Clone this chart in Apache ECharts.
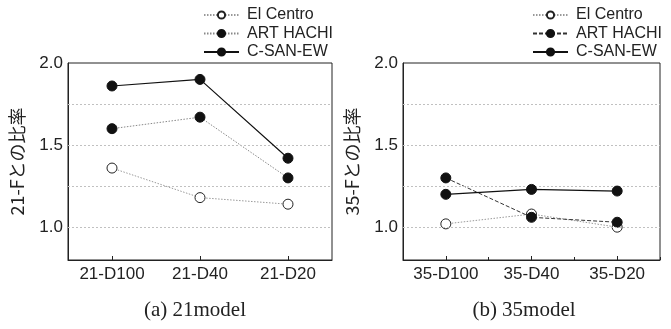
<!DOCTYPE html>
<html>
<head>
<meta charset="utf-8">
<script src="https://cdn.jsdelivr.net/npm/echarts@6/dist/echarts.min.js"></script>
<style>
html,body{margin:0;padding:0;background:#fff;}
#a{position:absolute;left:0;top:0;width:335px;height:329px;}
#b{position:absolute;left:335px;top:0;width:336px;height:329px;}
</style>
</head>
<body>
<div id="a"></div>
<div id="b"></div>
<script>
// ---- data ----
const catsA = ['21-D100', '21-D40', '21-D20'];
const catsB = ['35-D100', '35-D40', '35-D20'];
const seriesNames = ['El Centro', 'ART HACHI', 'C-SAN-EW'];
const elCentroA = [1.36, 1.18, 1.14];
const artHachiA = [1.60, 1.67, 1.30];
const cSanEwA   = [1.86, 1.90, 1.42];
const elCentroB = [1.02, 1.08, 1.00];
const artHachiB = [1.30, 1.06, 1.03];
const cSanEwB   = [1.20, 1.23, 1.22];
const gridValues = [1.0, 1.25, 1.5, 1.75];
const yLabelValues = [1.0, 1.5, 2.0];
const yNameA = '21-Fとの比率';
const yNameB = '35-Fとの比率';
const titleA = '(a) 21model';
const titleB = '(b) 35model';

const SANS = 'Liberation Sans, Arial, sans-serif';
const INK = '#222';

function makeOption(cats, vals, yName, title, gridLeft, gridRight, legendLeft, titleX, artStyle, boundaryTicks) {
  const xAxes = [{
    type: 'category', data: cats, boundaryGap: true, gridIndex: 0,
    axisLine: {show: true, lineStyle: {color: INK, width: 1}},
    axisTick: {show: true, inside: true, alignWithLabel: true, length: 4, lineStyle: {color: INK}},
    axisLabel: {color: INK, fontFamily: SANS, fontSize: 17, margin: 6},
    splitLine: {show: false}
  }];
  if (boundaryTicks) {
    xAxes.push({
      type: 'category', data: cats, boundaryGap: true, gridIndex: 0, position: 'bottom',
      axisLine: {show: false},
      axisTick: {show: true, inside: true, alignWithLabel: false, length: 3, lineStyle: {color: INK}},
      axisLabel: {show: false}, splitLine: {show: false}
    });
  }
  const mk = (name, data, lineStyle, open, z) => ({
    name, type: 'line', data, xAxisIndex: 0, yAxisIndex: 0,
    symbol: 'circle', symbolSize: 10, z,
    lineStyle,
    itemStyle: open ? {color: '#fff', borderColor: INK, borderWidth: 1} : {color: '#111', borderColor: '#111', borderWidth: 1},
    animation: false
  });
  const s0 = mk(seriesNames[0], vals[0], {color: '#999', width: 1, type: [1.5, 1.5]}, true, 3);
  s0.markLine = {
    silent: true, symbol: ['none', 'none'], animation: false,
    label: {show: false},
    lineStyle: {color: '#c0c0c0', width: 1, type: [2, 2]},
    data: gridValues.map(v => ({yAxis: v}))
  };
  return {
    animation: false,
    textStyle: {fontFamily: SANS},
    title: {
      text: title, left: titleX, top: 300, textAlign: 'center', padding: 0,
      textStyle: {fontFamily: 'Liberation Serif, Times New Roman, serif', fontSize: 21, fontWeight: 'normal', color: INK}
    },
    legend: {
      orient: 'vertical', left: legendLeft, top: 7, padding: 0,
      itemWidth: 35, itemHeight: 9, itemGap: 2.5,
      textStyle: {fontFamily: SANS, fontSize: 16, color: INK, lineHeight: 16, padding: [0, 0, 0, 3]},
      data: seriesNames
    },
    grid: {left: gridLeft, right: gridRight, top: 63, bottom: 69, show: true, borderColor: INK, borderWidth: 1, backgroundColor: 'transparent'},
    xAxis: xAxes,
    yAxis: {
      type: 'value', min: 0.8, max: 2.0, interval: 0.1,
      name: yName, nameLocation: 'middle', nameRotate: 90, nameGap: 42,
      nameTextStyle: {fontFamily: 'Noto Sans CJK JP, ' + SANS, fontSize: 18, color: INK},
      axisLine: {show: true, lineStyle: {color: INK, width: 1}},
      axisTick: {show: false},
      splitLine: {show: false},
      axisLabel: {
        color: INK, fontFamily: SANS, fontSize: 17, margin: 5,
        formatter: v => yLabelValues.some(t => Math.abs(t - v) < 1e-6) ? v.toFixed(1) : ''
      }
    },
    series: [
      s0,
      mk(seriesNames[1], vals[1], artStyle, false, 4),
      mk(seriesNames[2], vals[2], {color: '#111', width: 1.2, type: 'solid'}, false, 5)
    ]
  };
}

const chartA = echarts.init(document.getElementById('a'));
chartA.setOption(makeOption(catsA, [elCentroA, artHachiA, cSanEwA], yNameA, titleA,
  66, 3, 203, 195, {color: '#888', width: 1, type: [1.5, 1.5]}, false));

const chartB = echarts.init(document.getElementById('b'));
chartB.setOption(makeOption(catsB, [elCentroB, artHachiB, cSanEwB], yNameB, titleB,
  59, 11, 197, 189, {color: '#333', width: 1, type: [4, 2]}, true));
</script>
</body>
</html>
